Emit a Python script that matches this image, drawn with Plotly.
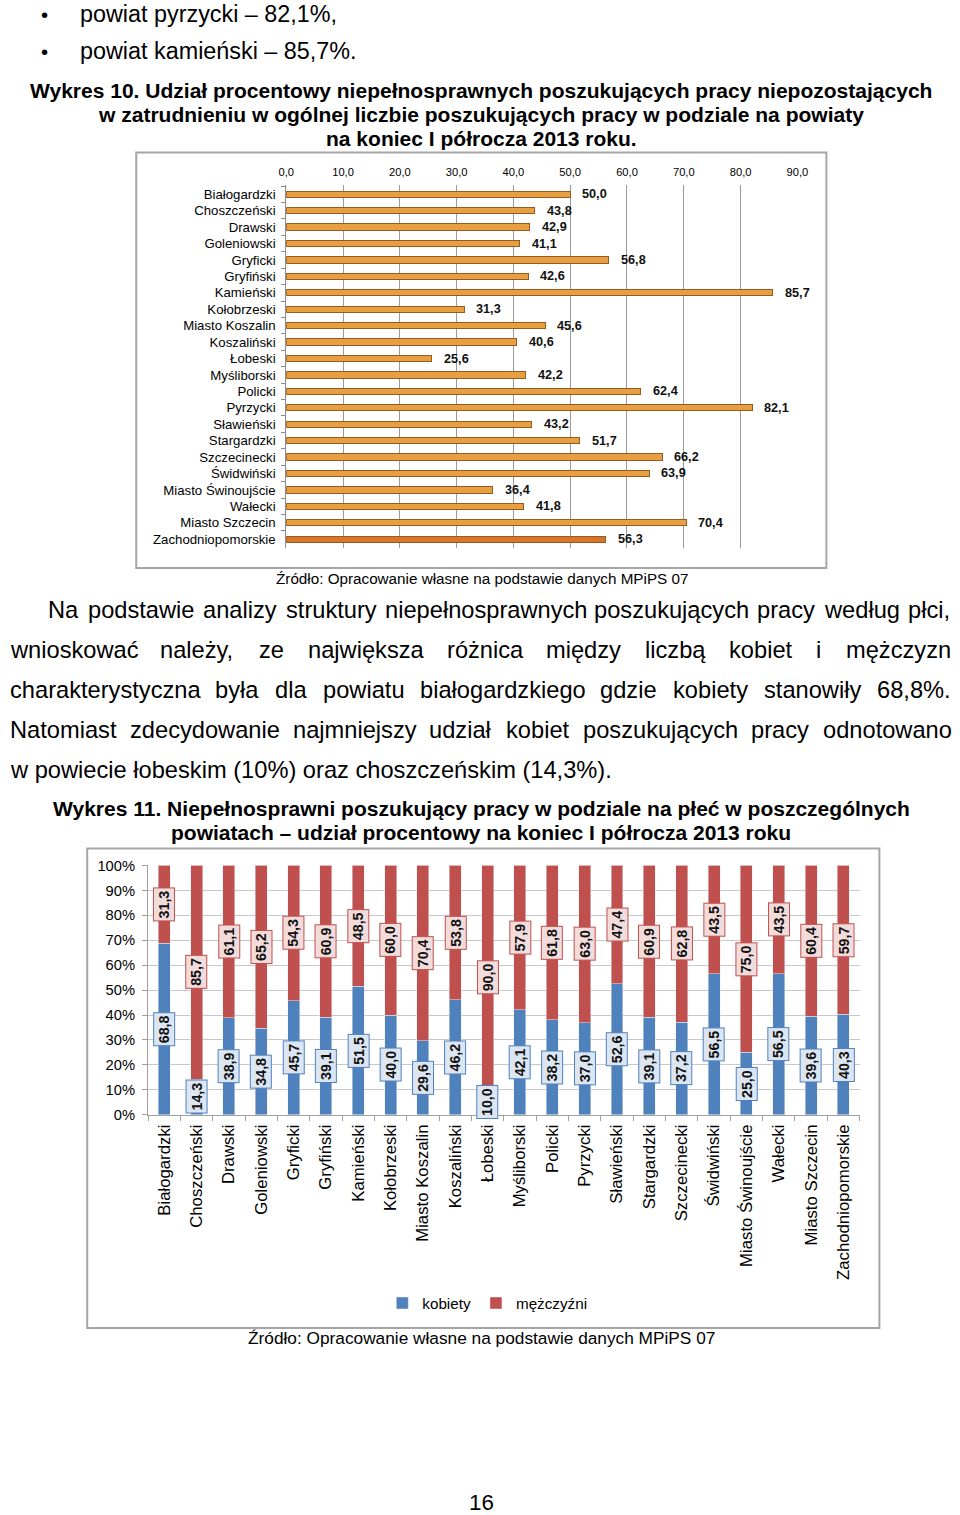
import plotly.graph_objects as go

# ---------------- data ----------------
powiaty = ["Białogardzki", "Choszczeński", "Drawski", "Goleniowski", "Gryficki", "Gryfiński",
           "Kamieński", "Kołobrzeski", "Miasto Koszalin", "Koszaliński", "Łobeski", "Myśliborski",
           "Policki", "Pyrzycki", "Sławieński", "Stargardzki", "Szczecinecki", "Świdwiński",
           "Miasto Świnoujście", "Wałecki", "Miasto Szczecin", "Zachodniopomorskie"]
udzial = [50.0, 43.8, 42.9, 41.1, 56.8, 42.6, 85.7, 31.3, 45.6, 40.6, 25.6, 42.2,
          62.4, 82.1, 43.2, 51.7, 66.2, 63.9, 36.4, 41.8, 70.4, 56.3]
kobiety = [68.8, 14.3, 38.9, 34.8, 45.7, 39.1, 51.5, 40.0, 29.6, 46.2, 10.0, 42.1,
           38.2, 37.0, 52.6, 39.1, 37.2, 56.5, 25.0, 56.5, 39.6, 40.3]
mezczyzni = [31.3, 85.7, 61.1, 65.2, 54.3, 60.9, 48.5, 60.0, 70.4, 53.8, 90.0, 57.9,
             61.8, 63.0, 47.4, 60.9, 62.8, 43.5, 75.0, 43.5, 60.4, 59.7]
x1_ticks = [0, 10, 20, 30, 40, 50, 60, 70, 80, 90]
y2_ticks = [0, 10, 20, 30, 40, 50, 60, 70, 80, 90, 100]
y2_ticktext = [f"{v}%" for v in y2_ticks]

W, H = 960, 1515
FONT = "Liberation Sans, Arial, sans-serif"

# page-to-figure compensation (measured from the rendered output)
SX, SY, OX, OY = 0.98, 0.988, 8.8, 8.8
FS = 1 / 0.984


def fx(x):
    return (x - OX) / SX


def fy(y):
    return (y - OY) / SY


def px(x):
    return min(max(fx(x), 0), W) / W


def py(y):
    return 1 - min(max(fy(y), 0), H) / H


def f(s):
    return s * FS


def fmt(v):
    return f"{v:.1f}".replace(".", ",")


fig = go.Figure()

# ---------------- chart 1 ----------------
bar_colors = ["#E6A041"] * (len(powiaty) - 1) + ["#D8752D"]
fig.add_trace(go.Bar(
    y=powiaty, x=udzial, orientation="h", xaxis="x", yaxis="y",
    marker=dict(color=bar_colors, line=dict(color="#9A5A1E", width=1)),
    width=0.38, showlegend=False, hoverinfo="x+y"))

# ---------------- chart 2 ----------------
fig.add_trace(go.Bar(
    x=powiaty, y=kobiety, name="kobiety", xaxis="x2", yaxis="y2",
    marker=dict(color="#4F81BD"), width=0.37))
fig.add_trace(go.Bar(
    x=powiaty, y=mezczyzni, name="mężczyźni", xaxis="x2", yaxis="y2",
    marker=dict(color="#C0504D"), width=0.37))

annotations = []

# value labels chart 1
for c, v in zip(powiaty, udzial):
    annotations.append(dict(
        x=v, y=c, xref="x", yref="y", text="<b>" + fmt(v) + "</b>", showarrow=False,
        xanchor="left", xshift=10, font=dict(family=FONT, size=f(12.5), color="#111")))

# value labels chart 2
for c, k, m in zip(powiaty, kobiety, mezczyzni):
    annotations.append(dict(
        x=c, y=k / 2, xref="x2", yref="y2", text="<b>" + fmt(k) + "</b>", showarrow=False,
        textangle=-90, bgcolor="#DCE6F2", bordercolor="#4F81BD", borderwidth=1, borderpad=2,
        font=dict(family=FONT, size=f(14), color="#111")))
    annotations.append(dict(
        x=c, y=k + m / 2, xref="x2", yref="y2", text="<b>" + fmt(m) + "</b>", showarrow=False,
        textangle=-90, bgcolor="#F2DCDB", bordercolor="#C0504D", borderwidth=1, borderpad=2,
        font=dict(family=FONT, size=f(14), color="#111")))


def text(x, y, t, size, xanchor="center", bold=False):
    annotations.append(dict(
        x=px(x), y=py(y), xref="paper", yref="paper", text=("<b>" + t + "</b>") if bold else t,
        showarrow=False, xanchor=xanchor, yanchor="middle",
        font=dict(family=FONT, size=f(size), color="#000")))


# bullets
text(45, 16, "•", 20)
text(79, 15, "powiat pyrzycki – 82,1%,", 23, "left")
text(45, 53, "•", 20)
text(79, 52, "powiat kamieński – 85,7%.", 23, "left")

# title 1
text(482, 91, "Wykres 10. Udział procentowy niepełnosprawnych poszukujących pracy niepozostających", 20.7, bold=True)
text(482, 115, "w zatrudnieniu w ogólnej liczbie poszukujących pracy w podziale na powiaty", 20.7, bold=True)
text(482, 139, "na koniec I półrocza 2013 roku.", 20.7, bold=True)

text(483, 578, "Źródło: Opracowanie własne na podstawie danych MPiPS 07", 15)

# justified paragraph
CW = {' ': 278, ',': 278, '.': 278, '%': 889, '(': 333, ')': 333, 'N': 722,
      'a': 556, 'b': 556, 'c': 500, 'd': 556, 'e': 556, 'f': 278, 'g': 556, 'h': 556, 'i': 222,
      'j': 222, 'k': 500, 'l': 222, 'm': 833, 'n': 556, 'o': 556, 'p': 556, 'q': 556, 'r': 333,
      's': 500, 't': 278, 'u': 556, 'v': 500, 'w': 722, 'x': 500, 'y': 500, 'z': 500,
      'ą': 556, 'ę': 556, 'ć': 500, 'ł': 222, 'ń': 556, 'ó': 556, 'ś': 500, 'ź': 500, 'ż': 500}

PSIZE = 23.3


def wwidth(w):
    # width in figure pixels, converted to page pixels
    return sum(CW.get(ch, 556) for ch in w) / 1000 * f(PSIZE) * SX


para = [
    ("Na podstawie analizy struktury niepełnosprawnych poszukujących pracy według płci,", 48, 610, True),
    ("wnioskować należy, ze największa różnica między liczbą kobiet i mężczyzn", 10, 650, True),
    ("charakterystyczna była dla powiatu białogardzkiego gdzie kobiety stanowiły 68,8%.", 10, 690, True),
    ("Natomiast zdecydowanie najmniejszy udział kobiet poszukujących pracy odnotowano", 10, 730, True),
    ("w powiecie łobeskim (10%) oraz choszczeńskim (14,3%).", 10, 770, False),
]
RIGHT = 949
for line, left, y, just in para:
    if not just:
        text(left - 1, y, line, PSIZE, "left")
        continue
    words = line.split(" ")
    widths = [wwidth(w) for w in words]
    gap = (RIGHT - left - sum(widths)) / (len(words) - 1)
    xpos = left
    for w, wd in zip(words, widths):
        text(xpos - 1, y, w, PSIZE, "left")
        xpos += wd + gap

# title 2
text(482, 808, "Wykres 11. Niepełnosprawni poszukujący pracy w podziale na płeć w poszczególnych", 20.7, bold=True)
text(482, 832, "powiatach – udział procentowy na koniec I półrocza 2013 roku", 20.7, bold=True)

text(482, 1337, "Źródło: Opracowanie własne na podstawie danych MPiPS 07", 17)
text(482, 1501, "16", 22)

shapes = [
    dict(type="rect", xref="paper", yref="paper", x0=px(137), x1=px(827), y0=py(153), y1=py(568),
         line=dict(color="#A6A6A6", width=2), fillcolor="rgba(0,0,0,0)", layer="below"),
    dict(type="rect", xref="paper", yref="paper", x0=px(88), x1=px(880), y0=py(848), y1=py(1327),
         line=dict(color="#A6A6A6", width=2), fillcolor="rgba(0,0,0,0)", layer="below"),
]

fig.update_layout(
    width=W, height=H, margin=dict(l=0, r=0, t=0, b=0),
    paper_bgcolor="white", plot_bgcolor="white",
    separators=", ", barmode="stack",
    font=dict(family=FONT, color="#000"),
    annotations=annotations, shapes=shapes,
    xaxis=dict(domain=[px(287), px(798)], anchor="y", side="top", range=[0, 90],
               tickvals=x1_ticks, tickformat=".1f", tickfont=dict(size=f(11)),
               showgrid=True, gridcolor="#9A9A9A", gridwidth=1, zeroline=False,
               showline=False, ticks="", ticklabelstandoff=6, fixedrange=True),
    yaxis=dict(domain=[py(548.2), py(185.8)], anchor="x", autorange="reversed",
               type="category", tickfont=dict(size=f(13)), showline=True, linecolor="#8C8C8C",
               ticks="outside", tickson="boundaries", ticklen=4, tickcolor="#8C8C8C",
               ticklabelstandoff=7, showgrid=False),
    xaxis2=dict(domain=[px(148.8), px(860.2)], anchor="y2", type="category",
                tickangle=-90, tickfont=dict(size=f(16.5)), showline=True, linecolor="#A0A0A0",
                ticks="outside", tickson="boundaries", ticklen=5, tickcolor="#A0A0A0",
                ticklabelstandoff=2, showgrid=False),
    yaxis2=dict(domain=[py(1114), py(865)], anchor="x2", range=[0, 100],
                tickvals=y2_ticks, ticktext=y2_ticktext, tickfont=dict(size=f(14.5)),
                showgrid=True, gridcolor="#C8C8C8", zeroline=False,
                showline=True, linecolor="#A0A0A0", ticks="outside", ticklen=5,
                tickcolor="#A0A0A0", ticklabelstandoff=4),
    legend=dict(orientation="h", x=px(488), xanchor="center", y=py(1302), yanchor="middle",
                font=dict(size=f(15)), itemwidth=30, traceorder="normal",
                bgcolor="rgba(0,0,0,0)"),
)

fig.write_html("out.html", config={"displayModeBar": False},
               post_script="document.body.style.margin='0';document.body.style.overflow='hidden';")
